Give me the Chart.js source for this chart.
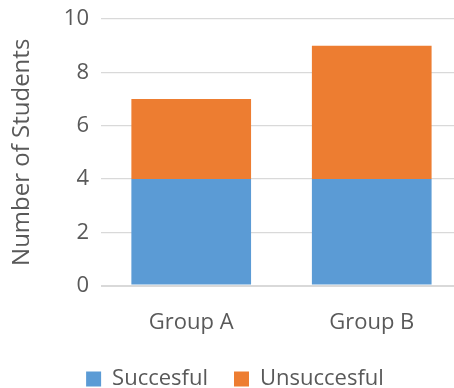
<!DOCTYPE html>
<html>
<head>
<meta charset="utf-8">
<script src="https://cdn.jsdelivr.net/npm/chart.js@4/dist/chart.umd.min.js"></script>
<style>
  html, body { margin: 0; padding: 0; background: #fff; overflow: hidden; }
  #wrap { width: 462px; height: 388px; }
</style>
</head>
<body>
<div id="wrap"><canvas id="students" width="462" height="388"></canvas></div>
<script>
const groups = ['Group A', 'Group B'];
const successful = [4, 4];
const unsuccessful = [3, 5];
const yTicks = [0, 2, 4, 6, 8, 10];

const ctx = document.getElementById('students').getContext('2d');
const grey = '#595959';
const font = '"Open Sans", Lato, sans-serif';

const data = {
  labels: groups,
  datasets: [{
    label: 'Succesful',
    backgroundColor: '#5b9bd5',
    data: successful,
    barPercentage: 0.663,
    categoryPercentage: 1
  }, {
    label: 'Unsuccesful',
    backgroundColor: '#ed7d31',
    data: unsuccessful,
    barPercentage: 0.663,
    categoryPercentage: 1
  }]
};

const options = {
  responsive: false,
  animation: false,
  layout: { padding: { top: 19, left: 8, right: 0, bottom: -12 } },
  plugins: {
    tooltip: { enabled: false },
    legend: {
      position: 'bottom',
      labels: {
        boxWidth: 15,
        boxHeight: 15,
        padding: 26,
        color: grey,
        font: { family: font, size: 22 }
      }
    }
  },
  scales: {
    x: {
      stacked: true,
      grid: { display: false },
      border: { display: false },
      ticks: { color: grey, font: { family: font, size: 22 }, padding: 16 },
      afterFit: s => { s.height -= 10; }
    },
    y: {
      stacked: true,
      min: 0,
      max: 10,
      afterBuildTicks: axis => { axis.ticks = yTicks.map(v => ({ value: v })); },
      afterFit: s => { s.paddingTop = 0; },
      border: { display: false },
      grid: {
        color: '#d9d9d9',
        lineWidth: c => (c.tick && c.tick.value === 0 ? 2 : 1.3),
        drawTicks: false
      },
      ticks: { color: grey, font: { family: font, size: 22 }, padding: 12 },
      title: {
        display: true,
        text: 'Number of Students',
        color: grey,
        font: { family: font, size: 24 },
        padding: { top: 0, bottom: 15 }
      }
    }
  }
};

const chart = new Chart(ctx, { type: 'bar', data: data, options: options });
</script>
</body>
</html>
